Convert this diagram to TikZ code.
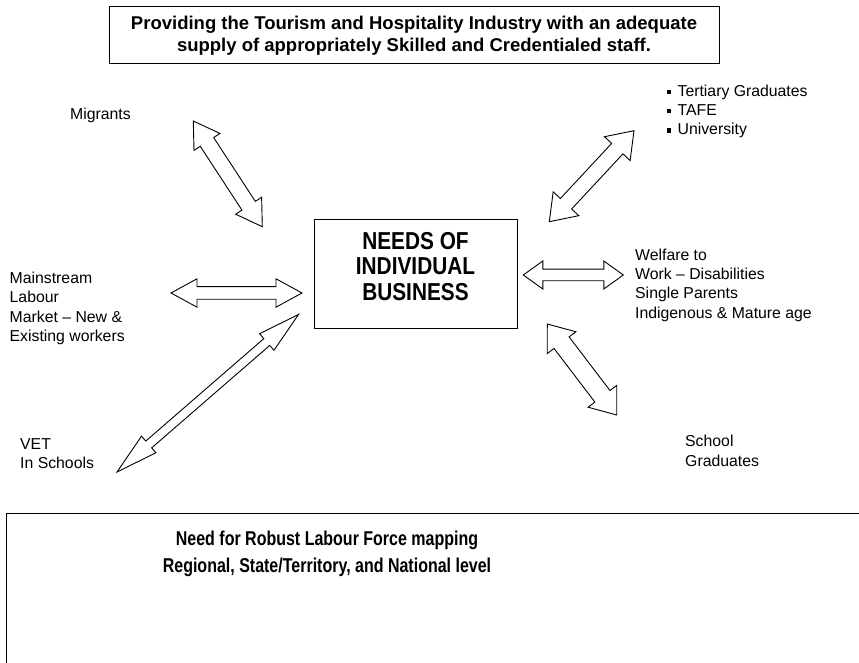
\documentclass[tikz,border=0pt]{standalone}
\usepackage{fontspec}
\setmainfont{Liberation Sans}
\newfontfamily\condensed{Liberation Sans}[FakeStretch=0.85]
\newfontfamily\panelfont{Liberation Sans}[FakeStretch=0.8]
\usetikzlibrary{calc,positioning}

% hollow two-headed block arrow between two named points
% #3 head length, #4 half head width, #5 half shaft width (pt)
\newcommand{\twoway}[5]{%
  \draw[blockarrow] (#1)
    -- ($(#1)!#3pt!(#2)!#4pt!90:(#2)$)
    -- ($(#1)!#3pt!(#2)!#5pt!90:(#2)$)
    -- ($(#2)!#3pt!(#1)!#5pt!-90:(#1)$)
    -- ($(#2)!#3pt!(#1)!#4pt!-90:(#1)$)
    -- (#2)
    -- ($(#2)!#3pt!(#1)!#4pt!90:(#1)$)
    -- ($(#2)!#3pt!(#1)!#5pt!90:(#1)$)
    -- ($(#1)!#3pt!(#2)!#5pt!-90:(#2)$)
    -- ($(#1)!#3pt!(#2)!#4pt!-90:(#2)$)
    -- cycle;}
\newcommand{\sqbullet}{\rule[0.25ex]{0.26em}{0.26em}\hspace{0.4em}}

\begin{document}
\begin{tikzpicture}[x=1pt,y=1pt,
    blockarrow/.style={draw=black, line width=0.9pt, line join=miter, fill=white},
    framebox/.style={draw=black, line width=1pt},
    source/.style={font=\fontsize{15.8}{19.3}\selectfont, align=left, anchor=west, inner sep=0pt},
  ]
  \clip (0,0) rectangle (859,663);
  % top banner
  \node[framebox, minimum width=610, minimum height=57, align=center,
        font=\bfseries\fontsize{18.5}{22}\selectfont] (goal) at (414,627.5)
    {Providing the Tourism and Hospitality Industry with an adequate\\
     supply of appropriately Skilled and Credentialed staff.};
  % central box
  \node[framebox, minimum width=203, minimum height=109] (needs) at (415.5,388.5) {};
  \node[align=center, font=\condensed\bfseries\fontsize{24.5}{25.5}\selectfont]
    (needs-text) at ([yshift=8pt]needs.center) {NEEDS OF\\INDIVIDUAL\\BUSINESS};
  % labour sources
  \node[source] (migrants) at (70,548) {Migrants};
  \node[source] (mainstream) at (9.5,354.5) {Mainstream\\Labour\\Market -- New \&\\Existing workers};
  \node[source] (vet) at (20,209.5) {VET\\In Schools};
  \node[source] (tertiary) at (667,551.7) {\sqbullet Tertiary Graduates\\\sqbullet TAFE\\\sqbullet University};
  \node[source] (welfare) at (635,378) {Welfare to\\Work -- Disabilities\\Single Parents\\Indigenous \& Mature age};
  \node[source] (school) at (685,212) {School\\Graduates};
  % arrow ends
  \coordinate (mig-a) at (193.3,542);   \coordinate (mig-b) at (262.3,436.3);
  \coordinate (lab-a) at (171,370);     \coordinate (lab-b) at (302,370);
  \coordinate (vet-a) at (117,191);     \coordinate (vet-b) at (298.5,348.5);
  \coordinate (ter-a) at (549.3,441.3); \coordinate (ter-b) at (634,532.3);
  \coordinate (wel-a) at (523.3,388);   \coordinate (wel-b) at (623.3,388);
  \coordinate (sch-a) at (547.3,339);   \coordinate (sch-b) at (616.7,248);
  % two-way arrows
  \twoway{mig-a}{mig-b}{25}{15.5}{8}
  \twoway{lab-a}{lab-b}{26}{14.2}{6.3}
  \twoway{vet-a}{vet-b}{42}{11}{4.5}
  \twoway{ter-a}{ter-b}{24.5}{17.5}{7.7}
  \twoway{wel-a}{wel-b}{19.5}{14}{5.8}
  \twoway{sch-a}{sch-b}{23.5}{18}{9.5}
  % bottom panel
  \draw[framebox] (6,149) rectangle (900,-30);
  \node[align=center, font=\panelfont\bfseries\fontsize{20}{27}\selectfont]
    (mapping) at (327,109.5) {Need for Robust Labour Force mapping\\Regional, State/Territory, and National level};
\end{tikzpicture}
\end{document}
